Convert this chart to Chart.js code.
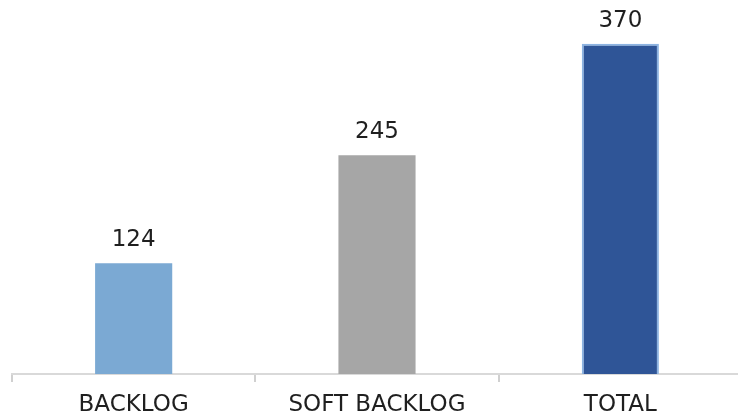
<!DOCTYPE html>
<html>
<head>
<meta charset="utf-8">
<script src="https://cdn.jsdelivr.net/npm/chart.js@4/dist/chart.umd.min.js"></script>
<style>
  html, body { margin: 0; padding: 0; background: #fff; overflow: hidden; }
  #wrap { position: relative; width: 744px; height: 418px; }
</style>
</head>
<body>
<div id="wrap"><canvas id="chart"></canvas></div>
<script>
// ---- data ----
const categories = ['BACKLOG', 'SOFT BACKLOG', 'TOTAL'];
const values = [124, 245, 370];
const barColors = ['#7ba9d3', '#a6a6a6', '#2f5597'];
const barBorders = ['#7ba9d3', '#a6a6a6', '#8db4e2'];

const FONT = '"DejaVu Sans", sans-serif';
const TEXT = '#1f1f1f';

// value labels above each bar
const valueLabels = {
  id: 'valueLabels',
  afterDatasetsDraw(chart) {
    const { ctx } = chart;
    const meta = chart.getDatasetMeta(0);
    ctx.save();
    ctx.font = '23px ' + FONT;
    ctx.fillStyle = TEXT;
    ctx.textAlign = 'center';
    ctx.textBaseline = 'alphabetic';
    meta.data.forEach((bar, i) => {
      ctx.fillText(String(values[i]), bar.x, bar.y - 17);
    });
    ctx.restore();
  },
};

new Chart(document.getElementById('chart'), {
  type: 'bar',
  data: {
    labels: categories,
    datasets: [{
      data: values,
      backgroundColor: barColors,
      borderColor: barBorders,
      borderWidth: [0, 0, 2],
      borderSkipped: 'bottom',
      barPercentage: 1,
      categoryPercentage: 0.317,
    }],
  },
  options: {
    responsive: true,
    maintainAspectRatio: false,
    animation: false,
    layout: { padding: { left: 12, right: 2, top: 17, bottom: 0 } },
    plugins: { legend: { display: false }, tooltip: { enabled: false } },
    scales: {
      x: {
        grid: { display: true, drawOnChartArea: false, drawTicks: true, tickLength: 8, color: '#d0d0d0', lineWidth: 2, offset: true },
        border: { display: true, color: '#d9d9d9', width: 2 },
        ticks: { color: TEXT, font: { family: FONT, size: 23 }, padding: 9, maxRotation: 0 },
        afterFit(s) { s.height = 44; },
      },
      y: { display: false, min: 0, max: 400 },
    },
  },
  plugins: [valueLabels],
});
</script>
</body>
</html>
